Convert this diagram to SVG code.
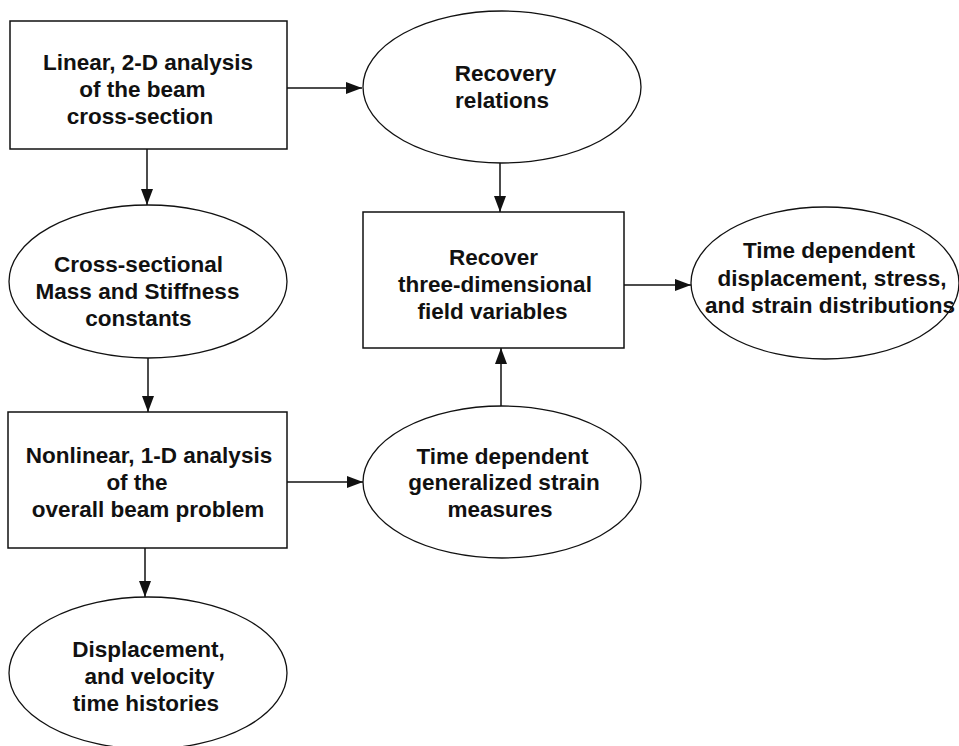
<svg xmlns="http://www.w3.org/2000/svg" width="959" height="746" viewBox="0 0 959 746">
<style>
.box{fill:#fff;stroke:#111;stroke-width:1.5}
.ell{fill:#fff;stroke:#111;stroke-width:1.3}
.lbl{font-family:"Liberation Sans",Arial,Helvetica,sans-serif;font-weight:bold;font-size:22.5px;fill:#111;text-anchor:middle}
.con{stroke:#111;stroke-width:1.5;fill:none;marker-end:url(#ah)}
</style>
<defs>
<marker id="ah" markerUnits="userSpaceOnUse" markerWidth="16" markerHeight="12" refX="16" refY="6" orient="auto">
<path d="M0,0 L16,6 L0,12 z" fill="#111"/>
</marker>
</defs>
<rect width="959" height="746" fill="#fff"/>
<g id="connectors">
<line class="con" x1="287" y1="88" x2="362" y2="88"/>
<line class="con" x1="147" y1="149" x2="147" y2="205"/>
<line class="con" x1="148" y1="358" x2="148" y2="412"/>
<line class="con" x1="145" y1="548" x2="145" y2="597"/>
<line class="con" x1="287" y1="482" x2="363" y2="482"/>
<line class="con" x1="501" y1="406" x2="501" y2="348"/>
<line class="con" x1="500" y1="163" x2="500" y2="212"/>
<line class="con" x1="624" y1="285" x2="691" y2="285"/>
</g>
<g id="linear2d">
<rect class="box" x="10" y="21" width="277" height="128"/>
<text class="lbl" x="148" y="70">Linear, 2-D analysis</text>
<text class="lbl" x="142.5" y="97">of the beam</text>
<text class="lbl" x="140" y="124">cross-section</text>
</g>
<g id="recovery-relations">
<ellipse class="ell" cx="502" cy="87" rx="139" ry="76"/>
<text class="lbl" x="505.5" y="81">Recovery</text>
<text class="lbl" x="502" y="108">relations</text>
</g>
<g id="cross-sectional">
<ellipse class="ell" cx="148" cy="281.5" rx="139" ry="76.5"/>
<text class="lbl" x="138.5" y="272">Cross-sectional</text>
<text class="lbl" x="137.5" y="299">Mass and Stiffness</text>
<text class="lbl" x="138.5" y="326">constants</text>
</g>
<g id="recover-3d">
<rect class="box" x="363" y="212" width="261" height="136"/>
<text class="lbl" x="493.5" y="265">Recover</text>
<text class="lbl" x="495" y="292">three-dimensional</text>
<text class="lbl" x="492.5" y="319">field variables</text>
</g>
<g id="time-dependent-distributions">
<ellipse class="ell" cx="825" cy="283" rx="134" ry="76"/>
<text class="lbl" x="829" y="258">Time dependent</text>
<text class="lbl" x="832" y="286">displacement, stress,</text>
<text class="lbl" x="830" y="313">and strain distributions</text>
</g>
<g id="nonlinear1d">
<rect class="box" x="8" y="412" width="279" height="136"/>
<text class="lbl" x="149" y="463">Nonlinear, 1-D analysis</text>
<text class="lbl" x="137" y="490">of the</text>
<text class="lbl" x="148" y="517">overall beam problem</text>
</g>
<g id="generalized-strain">
<ellipse class="ell" cx="502" cy="482" rx="139" ry="76"/>
<text class="lbl" x="502.5" y="464">Time dependent</text>
<text class="lbl" x="504" y="490">generalized strain</text>
<text class="lbl" x="500" y="517">measures</text>
</g>
<g id="displacement-histories">
<ellipse class="ell" cx="148" cy="673" rx="139" ry="76"/>
<text class="lbl" x="148.5" y="657">Displacement,</text>
<text class="lbl" x="149.5" y="684">and velocity</text>
<text class="lbl" x="146" y="711">time histories</text>
</g>
</svg>
